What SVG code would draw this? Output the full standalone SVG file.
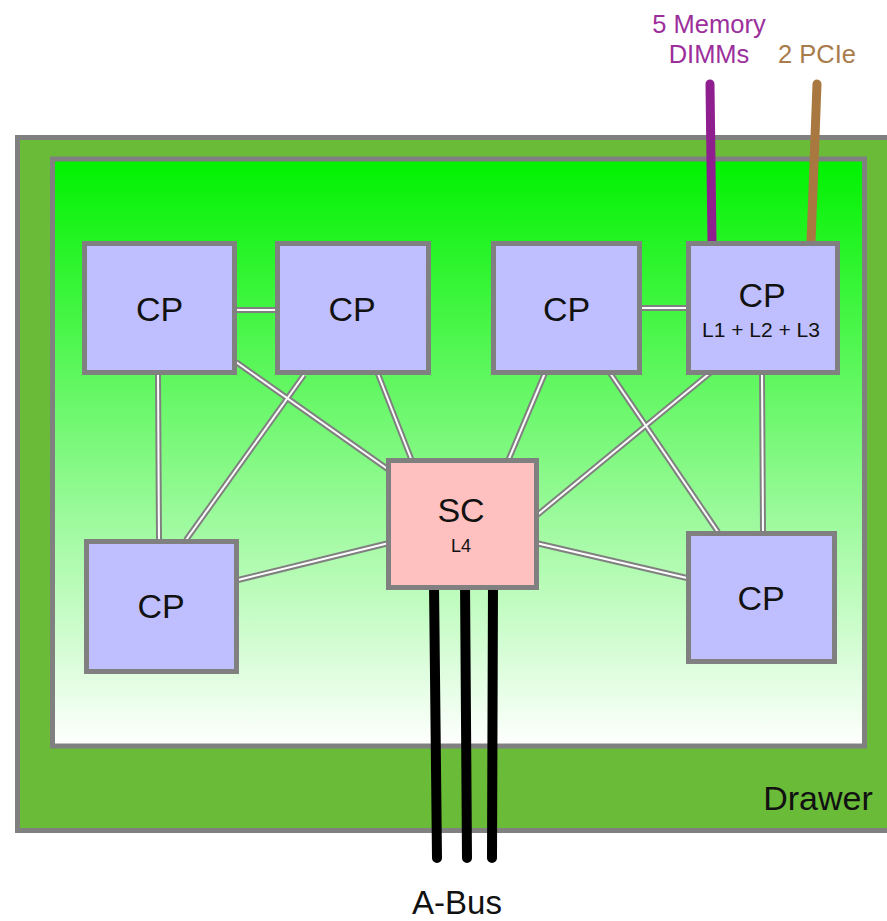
<svg xmlns="http://www.w3.org/2000/svg" width="887" height="921" viewBox="0 0 887 921">
<defs>
<linearGradient id="g" x1="0" y1="0" x2="0" y2="1">
<stop offset="0" stop-color="#00f200"/>
<stop offset="1" stop-color="#ffffff"/>
</linearGradient>
</defs>
<style>
.box{stroke:#808080;stroke-width:5}
.cp{fill:#bfbfff}
.sc{fill:#ffc0c0}
.t{font-family:"Liberation Sans",Arial,sans-serif;fill:#111;text-anchor:middle}
.c1{stroke:#808080;stroke-width:6;fill:none}
.c2{stroke:#ffffff;stroke-width:2;fill:none}
.bus{stroke:#000;stroke-width:10;stroke-linecap:round}
</style>
<g id="drawer">
<rect x="17.5" y="137.5" width="880" height="693" fill="#6abb38" stroke="#808080" stroke-width="5"/>
<text class="t" x="818" y="810" font-size="34">Drawer</text>
</g>
<g id="board">
<rect x="52.5" y="159" width="812" height="587" fill="url(#g)" stroke="#808080" stroke-width="5"/>
</g>
<g id="connectors">
<g class="c1">
<line x1="236" y1="310" x2="276" y2="310"/>
<line x1="641" y1="308" x2="689" y2="308"/>
<line x1="158" y1="373" x2="159" y2="540"/>
<line x1="762" y1="372" x2="763" y2="532"/>
<line x1="236" y1="362" x2="389" y2="470"/>
<line x1="304" y1="375" x2="186" y2="540"/>
<line x1="378" y1="374" x2="412" y2="461"/>
<line x1="238" y1="580" x2="389" y2="543"/>
<line x1="545" y1="373" x2="508" y2="461"/>
<line x1="710" y1="373" x2="536" y2="516"/>
<line x1="610" y1="373" x2="718" y2="532"/>
<line x1="536" y1="543" x2="687" y2="578"/>
</g>
<g class="c2">
<line x1="236" y1="310" x2="276" y2="310"/>
<line x1="641" y1="308" x2="689" y2="308"/>
<line x1="158" y1="373" x2="159" y2="540"/>
<line x1="762" y1="372" x2="763" y2="532"/>
<line x1="236" y1="362" x2="389" y2="470"/>
<line x1="304" y1="375" x2="186" y2="540"/>
<line x1="378" y1="374" x2="412" y2="461"/>
<line x1="238" y1="580" x2="389" y2="543"/>
<line x1="545" y1="373" x2="508" y2="461"/>
<line x1="710" y1="373" x2="536" y2="516"/>
<line x1="610" y1="373" x2="718" y2="532"/>
<line x1="536" y1="543" x2="687" y2="578"/>
</g>
<line x1="710" y1="84" x2="712" y2="242" stroke="#8f1f8f" stroke-width="9" stroke-linecap="round"/>
<line x1="817" y1="84" x2="811" y2="242" stroke="#a87840" stroke-width="9" stroke-linecap="round"/>
<line class="bus" x1="434" y1="584" x2="437" y2="858"/>
<line class="bus" x1="465" y1="582" x2="467" y2="858"/>
<line class="bus" x1="493" y1="584" x2="492" y2="858"/>
</g>
<g id="cp1"><rect class="box cp" x="84.5" y="243.5" width="150" height="129"/><text class="t" x="159.5" y="321" font-size="34">CP</text></g>
<g id="cp2"><rect class="box cp" x="277.5" y="243.5" width="151" height="129"/><text class="t" x="352" y="321" font-size="34">CP</text></g>
<g id="cp3"><rect class="box cp" x="493.5" y="243.5" width="146" height="129"/><text class="t" x="566.5" y="321" font-size="34">CP</text></g>
<g id="cp4"><rect class="box cp" x="688.5" y="243.5" width="149" height="129"/><text class="t" x="762" y="307" font-size="34">CP</text><text class="t" x="761" y="337" font-size="21">L1 + L2 + L3</text></g>
<g id="cp5"><rect class="box cp" x="86.5" y="541.5" width="150" height="130"/><text class="t" x="161" y="618" font-size="34">CP</text></g>
<g id="cp6"><rect class="box cp" x="688.5" y="533.5" width="146" height="128"/><text class="t" x="761" y="610" font-size="34">CP</text></g>
<g id="sc"><rect class="box sc" x="388.5" y="460.5" width="148" height="127"/><text class="t" x="461" y="522" font-size="34">SC</text><text class="t" x="461" y="552" font-size="18">L4</text></g>
<g id="labels">
<text class="t" x="709" y="33" font-size="25.5" style="fill:#9b2f9b">5 Memory</text>
<text class="t" x="709" y="63" font-size="25.5" style="fill:#9b2f9b">DIMMs</text>
<text class="t" x="817" y="63" font-size="25.5" style="fill:#a97c4c">2 PCIe</text>
<text class="t" x="457" y="914" font-size="33">A-Bus</text>
</g>
</svg>
